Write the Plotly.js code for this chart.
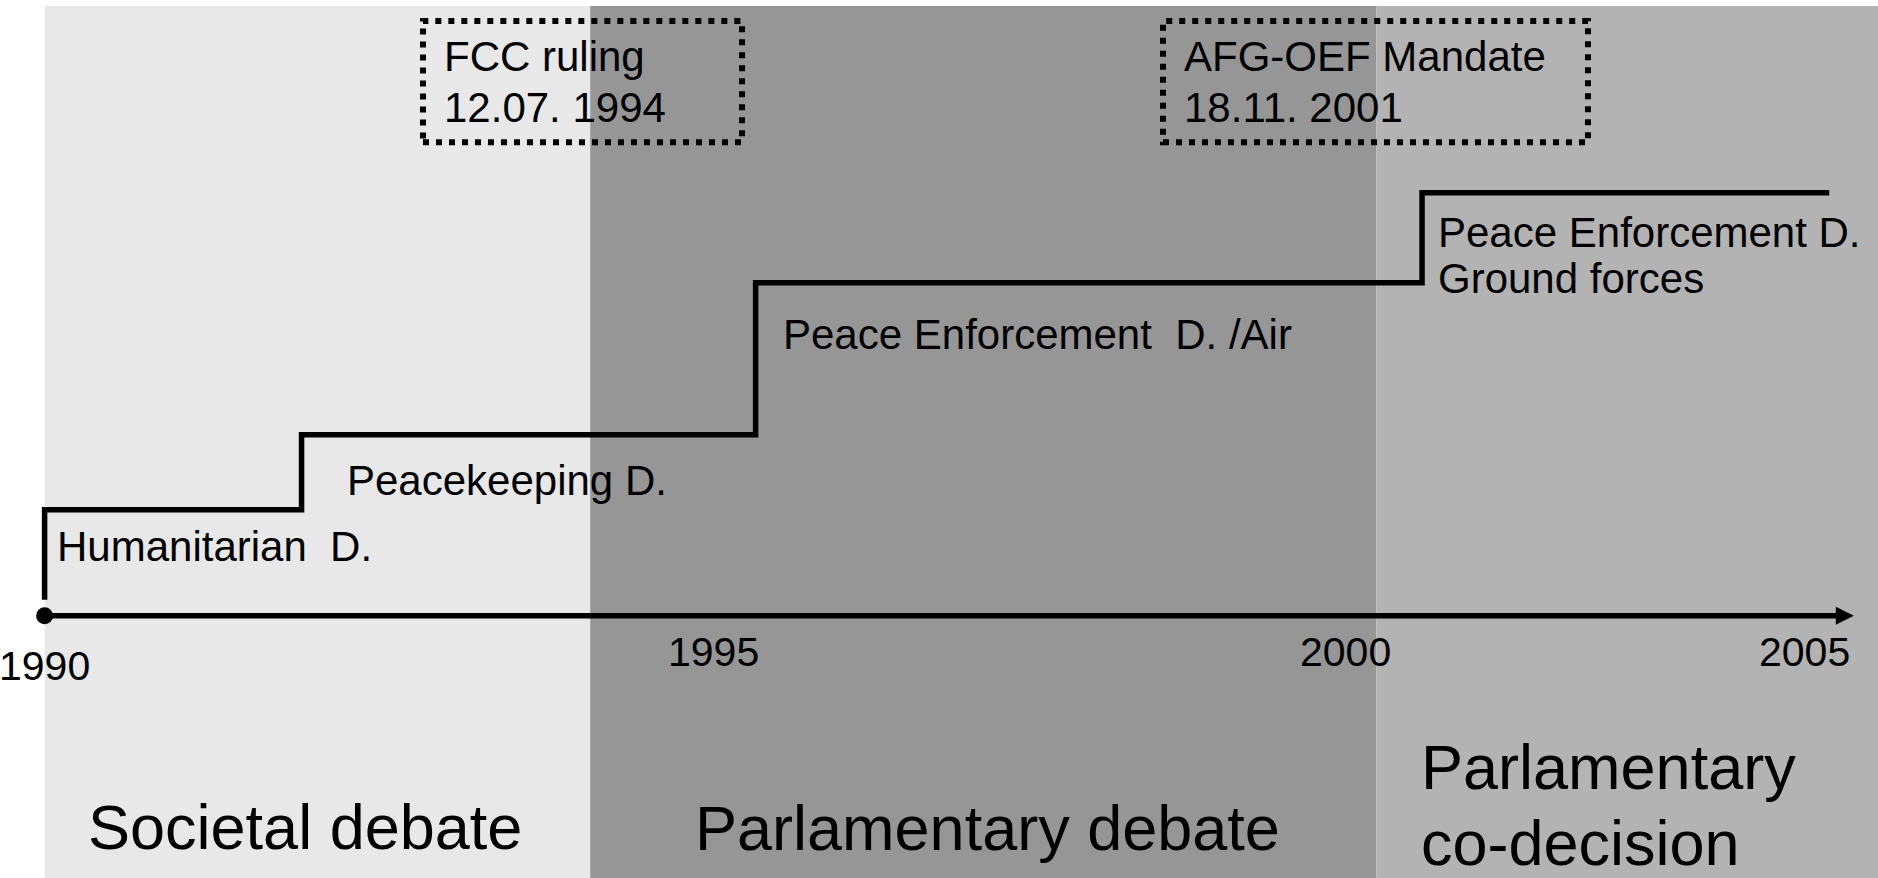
<!DOCTYPE html>
<html>
<head>
<meta charset="utf-8">
<script src="https://cdn.plot.ly/plotly-3.0.1.min.js"></script>
<style>
  html, body { margin: 0; padding: 0; background: #ffffff; }
  #chart { width: 1878px; height: 878px; }
</style>
</head>
<body>
<div id="chart"></div>
<script>
// ---------------- data ----------------
// Phases of the decision process (background bands), in years
const phaseNames = ['Societal debate', 'Parlamentary debate', 'Parlamentary<br>co-decision'];
const phaseStart = [1990, 1994.65, 2001.35];
const phaseEnd   = [1994.65, 2001.35, 2005.63];

// Step line: deployment "levels" over time (arbitrary level units, axis = 0)
const stepYears  = [1990, 1990, 1992.19, 1996.06, 2001.74, 2005.21];
const stepLevels = [0.16, 1.06, 1.81, 3.33, 4.23, 4.23];
const stepNames  = ['Humanitarian  D.', 'Peacekeeping D.', 'Peace Enforcement  D. /Air', 'Peace Enforcement D.<br>Ground forces'];

// Key events (dotted boxes)
const eventNames = ['FCC ruling', 'AFG-OEF Mandate'];
const eventDates = ['12.07. 1994', '18.11. 2001'];

// Timeline axis and its labels
const axisStart  = 1990;
const axisEnd    = 2005.42;
const tickLabels = ['1990', '1995', '2000', '2005'];
const tickYears  = [1990, 1995.70, 2001.09, 2005.0];

// ---------------- styles ----------------
const FONT = 'Liberation Sans, Arial, Helvetica, sans-serif';
const phaseColors = ['#e8e8e8', '#969696', '#b3b3b3'];
const nb = s => s.replace(/  /g, ' \u00a0');

const traces = [
  { // timeline axis
    x: [axisStart, axisEnd - 0.1], y: [0, 0],
    mode: 'lines', line: { color: '#000', width: 5.5 },
    hoverinfo: 'skip', showlegend: false
  },
  { // step line
    x: stepYears, y: stepLevels,
    mode: 'lines', line: { color: '#000', width: 5.5, shape: 'hv' },
    hoverinfo: 'skip', showlegend: false
  },
  { // start dot
    x: [axisStart], y: [0],
    mode: 'markers', marker: { color: '#000', size: 17, symbol: 'circle' },
    hoverinfo: 'skip', showlegend: false
  }
];

const shapes = [];
phaseNames.forEach((n, i) => {
  shapes.push({
    type: 'rect', layer: 'below', xref: 'x', yref: 'paper',
    x0: phaseStart[i], x1: phaseEnd[i], y0: 0, y1: 0.99317,
    fillcolor: phaseColors[i], line: { width: 0 }
  });
});
// event boxes
const boxX = [[1993.225, 1995.944], [1999.532, 2003.154]];
eventNames.forEach((n, i) => {
  shapes.push({
    type: 'rect', xref: 'x', yref: 'y',
    x0: boxX[i][0], x1: boxX[i][1], y0: 4.735, y1: 5.948,
    fillcolor: 'rgba(0,0,0,0)',
    line: { color: '#000', width: 6, dash: '6px,7px' }
  });
});
// arrow head at the end of the timeline
shapes.push({
  type: 'path', xref: 'x', yref: 'y',
  xsizemode: 'pixel', ysizemode: 'pixel',
  xanchor: axisEnd, yanchor: 0,
  path: 'M0,0 L-18,9 L-18,-9 Z',
  fillcolor: '#000', line: { width: 0 }
});

const ann = [];
function txt(text, x, y, size, xanchor) {
  ann.push({
    text: nb(text), x: x, y: y, xref: 'x', yref: 'y',
    xanchor: xanchor || 'left', yanchor: 'middle', showarrow: false,
    font: { family: FONT, size: size, color: '#000' }
  });
}
// step labels
const stepLabelPos = [[1990.089, 0.696], [1992.560, 1.353], [1996.276, 2.81], [2001.859, 3.836]];
stepNames.forEach((n, i) => {
  const lines = n.split('<br>');
  lines.forEach((l, j) => txt(l, stepLabelPos[i][0], stepLabelPos[i][1] - j * 0.463, 42));
});
// event texts
const eventTextX = [1993.387, 1999.694];
eventNames.forEach((n, i) => {
  txt(n, eventTextX[i], 5.595, 42);
  txt(eventDates[i], eventTextX[i], 5.08, 42);
});
// tick labels
const tickY = [-0.501, -0.358, -0.361, -0.367];
tickLabels.forEach((t, i) => txt(t, tickYears[i], tickY[i], 41, 'center'));
// phase labels
const phasePos = [[1990.353, -2.108], [1995.526, -2.125], [2001.714, -1.508]];
phaseNames.forEach((n, i) => {
  const lines = n.split('<br>');
  lines.forEach((l, j) => txt(l, phasePos[i][0], phasePos[i][1] - j * 0.767, 63));
});

const layout = {
  width: 1878, height: 878,
  margin: { l: 0, r: 0, t: 0, b: 0, pad: 0 },
  paper_bgcolor: '#ffffff', plot_bgcolor: '#ffffff',
  showlegend: false,
  xaxis: { range: [1989.61987, 2005.62601], visible: false, fixedrange: true },
  yaxis: { range: [-2.623, 6.157], visible: false, fixedrange: true },
  shapes: shapes,
  annotations: ann,
  font: { family: FONT, color: '#000' }
};

Plotly.newPlot('chart', traces, layout, { displayModeBar: false, staticPlot: true });
</script>
</body>
</html>
